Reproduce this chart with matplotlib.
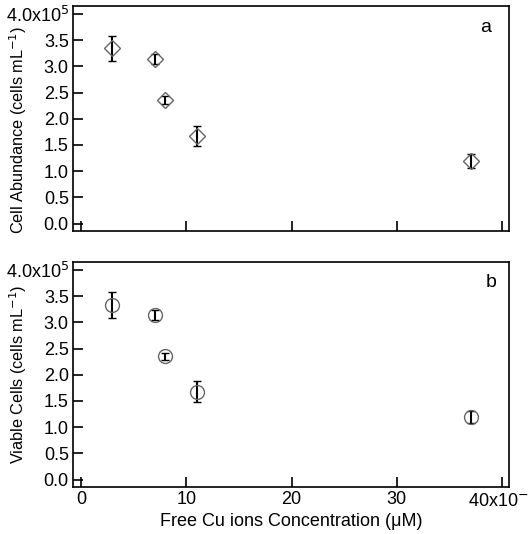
import matplotlib
matplotlib.use('Agg')
import matplotlib.pyplot as plt
import numpy as np

plt.rcParams['font.family'] = ['Liberation Sans', 'DejaVu Sans']

# free Cu ions concentration (x10^-3 uM)
cu_conc = [3, 7, 8, 11, 37]
# cell abundance (x10^5 cells/mL)
abundance = [3.34, 3.14, 2.36, 1.68, 1.20]
abundance_err = [0.24, 0.10, 0.08, 0.19, 0.13]
# viable cells (x10^5 cells/mL)
viable = [3.33, 3.14, 2.35, 1.68, 1.19]
viable_err = [0.24, 0.09, 0.07, 0.20, 0.11]

ytick_vals = np.arange(0, 4.01, 0.5)
ytick_labels = ['%.1f' % v for v in ytick_vals[:-1]] + ['4.0x10$^{5}$']
xtick_vals = [0, 10, 20, 30, 40]
xtick_labels = ['0', '10', '20', '30', '40x10$^{-3}$']

W, H = 528, 534
fig = plt.figure(figsize=(W / 100, H / 100), dpi=100)
FS = 13


def make_axes(top, bottom):
    left, right = 73, 509
    return fig.add_axes([left / W, 1 - bottom / H, (right - left) / W, (bottom - top) / H])


def style(ax, ylabel, ylab_y, letter, letter_xy, show_xlabels):
    ax.set_xlim(-0.75, 40.65)
    ax.set_ylim(-0.14, 4.15)
    ax.set_yticks(ytick_vals)
    ax.set_yticklabels(ytick_labels)
    ax.set_xticks(xtick_vals)
    if show_xlabels:
        ax.set_xticklabels(xtick_labels)
    else:
        ax.set_xticklabels([])
    ax.tick_params(direction='in', length=7, width=1.2, labelsize=FS, pad=3)
    for s in ax.spines.values():
        s.set_linewidth(1.2)
    ax.set_ylabel(ylabel, fontsize=11.7)
    ax.yaxis.label.set_va('center')
    ax.yaxis.set_label_coords(-0.125, ylab_y)
    ax.text(letter_xy[0], letter_xy[1], letter, transform=ax.transAxes,
            fontsize=14, ha='center', va='center')


ax1 = make_axes(6, 231)
ax1.errorbar(cu_conc, abundance, yerr=abundance_err, fmt='D', ms=8,
             mfc='none', mec='#666666', mew=1.0, ecolor='black',
             elinewidth=1.5, capsize=3, capthick=1.5)
style(ax1, 'Cell Abundance (cells mL$^{-1}$)', 0.45, 'a', (0.947, 0.905), False)

ax2 = make_axes(262, 487)
ax2.errorbar(cu_conc, viable, yerr=viable_err, fmt='o', ms=10,
             mfc='none', mec='#666666', mew=1.0, ecolor='black',
             elinewidth=1.5, capsize=3, capthick=1.5)
style(ax2, 'Viable Cells (cells mL$^{-1}$)', 0.5, 'b', (0.96, 0.91), True)
ax2.set_xlabel('Free Cu ions Concentration (\u03bcM)', fontsize=FS, labelpad=1)

fig.savefig('out.png', dpi=100)
